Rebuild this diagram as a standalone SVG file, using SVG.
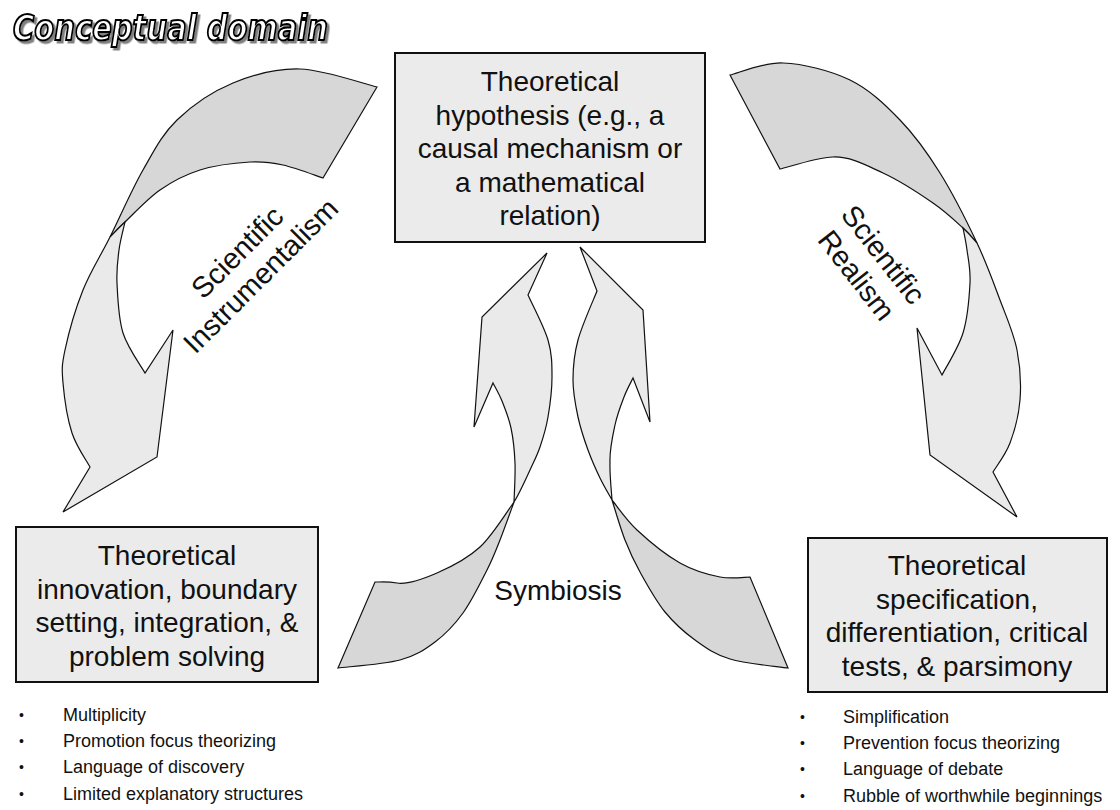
<svg xmlns="http://www.w3.org/2000/svg" width="1120" height="810" viewBox="0 0 1120 810">
<defs>
<filter id="shadow" x="-5%" y="-20%" width="115%" height="150%">
<feDropShadow dx="2.5" dy="2.5" stdDeviation="0.6" flood-color="#808080" flood-opacity="1"/>
</filter>
</defs>
<style>
.box{fill:#ebebeb;stroke:#111;stroke-width:2}
.bt{font-family:"Liberation Sans",Arial,sans-serif;font-size:28px;fill:#111;text-anchor:middle}
.lbl{font-family:"Liberation Sans",Arial,sans-serif;font-size:29px;fill:#111;text-anchor:middle}
.bul{font-family:"Liberation Sans",Arial,sans-serif;font-size:18px;fill:#111}
.dot{font-family:"Liberation Sans",Arial,sans-serif;font-size:14px;fill:#111}
.dark{fill:#d7d7d7;stroke:#111;stroke-width:1.2;stroke-linejoin:miter}
.light{fill:#eaeaea;stroke:#111;stroke-width:1.2;stroke-linejoin:miter}
.title{font-family:"DejaVu Sans","Liberation Sans",Arial,sans-serif;font-size:36px;font-weight:bold;font-style:italic}
</style>
<rect width="1120" height="810" fill="#fff"/>
<g id="title">
<text class="title" x="13" y="40" textLength="315" lengthAdjust="spacingAndGlyphs" fill="#fff" stroke="#000" stroke-width="2.2" filter="url(#shadow)">Conceptual domain</text>
</g>
<g id="connectors">
<g id="arrow-instrumentalism">
<path class="dark" d="M377,87 C364.2,84 324,69.7 300,69 C276,68.3 253.5,74.5 233,83 C212.5,91.5 192,105.5 177,120 C162,134.5 154.2,150.5 143,170 C131.8,189.5 120,217 110,237 C112.5,234.5 116.7,229.8 125,222 C133.3,214.2 147.5,198.7 160,190 C172.5,181.3 185,174.7 200,170 C215,165.3 236.2,162.8 250,162 C263.8,161.2 270.8,162.3 283,165 C295.2,167.7 316.3,175.8 323,178 Z"/>
<path class="light" d="M110,237 C100,257 90.5,271.2 83,290 C75.5,308.8 68.3,334.5 65,350 C61.7,365.5 61.8,369.2 63,383 C64.2,396.8 67.5,419 72,433 C76.5,447 87,461.3 90,467 L63,512 L157,457 L173,330 L145,373 C141.3,366.3 127.7,348 123,333 C118.3,318 117.7,296.8 117,283 C116.3,269.2 117.7,260.2 119,250 C120.3,239.8 124,226.7 125,222 C116.7,229.8 112.5,234.5 110,237 Z"/>
<g transform="translate(256,271) rotate(-45)">
<text class="lbl" x="0" y="-16.5">Scientific</text>
<text class="lbl" x="0" y="16.5">Instrumentalism</text>
</g>
</g>
<g id="arrow-realism">
<path class="dark" d="M730,75 C738.8,73 763,62.2 783,63 C803,63.8 830.5,70.5 850,80 C869.5,89.5 885,104.5 900,120 C915,135.5 927.2,152.5 940,173 C952.8,193.5 967,221.8 977,243 C974.7,240.5 970.3,234.7 963,228 C955.7,221.3 946.3,212.2 933,203 C919.7,193.8 899.7,180.7 883,173 C866.3,165.3 850.2,156.3 833,157 C815.8,157.7 788.8,167 780,169 Z"/>
<path class="light" d="M977,243 C987,264.2 993.3,282.2 1000,300 C1006.7,317.8 1013.7,333.3 1017,350 C1020.3,366.7 1021.2,384.5 1020,400 C1018.8,415.5 1014.5,431 1010,443 C1005.5,455 995.8,467.2 993,472 L1017,517 L930,455 L917,328 L942,375 C945.5,368 958.3,348.3 963,333 C967.7,317.7 969.3,296.8 970,283 C970.7,269.2 968.2,259.2 967,250 C965.8,240.8 963.7,231.7 963,228 C970.3,234.7 974.7,240.5 977,243 Z"/>
<g transform="translate(870,265) rotate(52)">
<text class="lbl" x="0" y="-7">Scientific</text>
<text class="lbl" x="0" y="27">Realism</text>
</g>
</g>
<g id="arrow-symbiosis-left">
<path class="dark" d="M514,502 C511.7,508.3 504.5,528.7 500,540 C495.5,551.3 493.2,557.8 487,570 C480.8,582.2 471.7,601 463,613 C454.3,625 445.5,634.2 435,642 C424.5,649.8 416.2,655.7 400,660 C383.8,664.3 348.3,666.7 338,668 L375,582 C378.7,582.2 386.7,581.2 397,583 C407.7,584.8 423.2,579 437,573 C450.8,567 467.2,558.8 480,547 C492.8,535.2 508.3,509.5 514,502 Z"/>
<path class="light" d="M514,502 C517.5,496.7 525.8,479.2 530,470 C534.2,460.8 537,455.8 540,447 C543,438.2 546,428.7 548,417 C550,405.3 552,389.8 552,377 C552,364.2 552,353.7 548,340 C544,326.3 531.3,302.5 528,295 L547,253 L482,317 L474,427 L493,383 C494.5,386 499,393.5 502,401 C505,408.5 508.8,417.7 511,428 C513.2,438.3 514.5,450.7 515,463 C515.5,475.3 514.2,495.5 514,502 Z"/>
</g>
<g id="arrow-symbiosis-right">
<path class="dark" d="M612,500 C614.2,506.7 620.3,528 625,540 C629.7,552 633.3,560 640,572 C646.7,584 655.8,600.7 665,612 C674.2,623.3 684.2,632.2 695,640 C705.8,647.8 714.5,654.3 730,659 C745.5,663.7 778.3,666.5 788,668 L750,577 C745,577 731.7,579.3 720,577 C708.3,574.7 693.8,570.8 680,563 C666.2,555.2 648.3,540.5 637,530 C625.7,519.5 616.2,505 612,500 Z"/>
<path class="light" d="M612,500 C610,496.3 604,486.3 600,478 C596,469.7 591.7,460.2 588,450 C584.3,439.8 580.5,428.7 578,417 C575.5,405.3 573,392.8 573,380 C573,366.2 574,354.8 578,340 C582,325.2 593.8,299.2 597,291 L580,247 L643,310 L650,422 L633,378 C631.5,381.2 627,389.2 624,397 C621,404.8 617.3,414.2 615,425 C612.7,435.8 609.5,449.5 610,462 C609.5,474.5 611.7,493.7 612,500 Z"/>
</g>
<text class="lbl" x="558" y="600" style="font-size:28px">Symbiosis</text>
</g>
<g id="node-hypothesis">
<rect class="box" x="395" y="53" width="310" height="189"/>
<text class="bt" x="550" y="91">Theoretical</text>
<text class="bt" x="550" y="124.5">hypothesis (e.g., a</text>
<text class="bt" x="550" y="158">causal mechanism or</text>
<text class="bt" x="550" y="191.5">a mathematical</text>
<text class="bt" x="550" y="225">relation)</text>
</g>
<g id="node-innovation">
<rect class="box" x="16" y="527" width="302" height="155"/>
<text class="bt" x="167" y="565">Theoretical</text>
<text class="bt" x="167" y="598.5">innovation, boundary</text>
<text class="bt" x="167" y="632">setting, integration, &amp;</text>
<text class="bt" x="167" y="665.5">problem solving</text>
</g>
<g id="node-specification">
<rect class="box" x="808" y="538" width="299" height="154"/>
<text class="bt" x="957" y="575">Theoretical</text>
<text class="bt" x="957" y="608.5">specification,</text>
<text class="bt" x="957" y="642">differentiation, critical</text>
<text class="bt" x="957" y="675.5">tests, &amp; parsimony</text>
</g>
<g id="list-left">
<text class="dot" x="19" y="720">•</text><text class="bul" x="63" y="721">Multiplicity</text>
<text class="dot" x="19" y="746">•</text><text class="bul" x="63" y="747">Promotion focus theorizing</text>
<text class="dot" x="19" y="772">•</text><text class="bul" x="63" y="773">Language of discovery</text>
<text class="dot" x="19" y="799">•</text><text class="bul" x="63" y="800">Limited explanatory structures</text>
</g>
<g id="list-right">
<text class="dot" x="800" y="722">•</text><text class="bul" x="843" y="723">Simplification</text>
<text class="dot" x="800" y="748">•</text><text class="bul" x="843" y="749">Prevention focus theorizing</text>
<text class="dot" x="800" y="774">•</text><text class="bul" x="843" y="775">Language of debate</text>
<text class="dot" x="800" y="801">•</text><text class="bul" x="843" y="802">Rubble of worthwhile beginnings</text>
</g>
</svg>
